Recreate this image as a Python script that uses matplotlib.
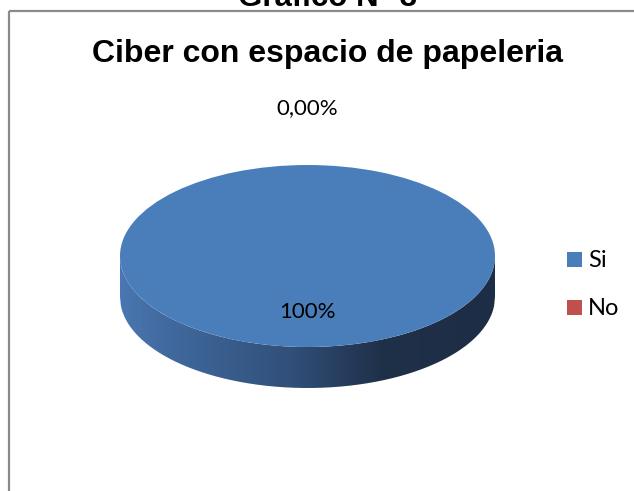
import numpy as np
import matplotlib
matplotlib.use("Agg")
import matplotlib.pyplot as plt
from matplotlib.patches import Rectangle, PathPatch
from matplotlib.path import Path
from matplotlib.colors import LinearSegmentedColormap

# --- data -------------------------------------------------------------
categories = ["Si", "No"]
values = [100, 0]
value_labels = ["100%", "0,00%"]
slice_colors = ["#4a7ebb", "#c0504d"]
chart_title = "Ciber con espacio de papeleria"
figure_caption = "Grafico N° 3"

# --- layout (pixels) ---------------------------------------------------
W, H = 634, 491
cx, cy = 307.5, 256.0      # centre of the top face
rx, ry = 187.5, 91.0       # semi-axes of the top face
depth = 41.0               # thickness of the disc
label_dist = [0.62, 1.62]  # radial distance of each value label

label_font = ["Lato", "DejaVu Sans"]
title_font = ["Liberation Sans", "DejaVu Sans"]

fig = plt.figure(figsize=(W / 100, H / 100), dpi=100)
fig.patch.set_facecolor("white")

# full-figure overlay in pixel coordinates
ax = fig.add_axes([0, 0, 1, 1])
ax.set_xlim(0, W)
ax.set_ylim(H, 0)
ax.axis("off")

# chart frame (continues past the right and bottom edges)
ax.add_patch(Rectangle((9, 11), W + 20, H + 20, fill=False,
                       edgecolor="#8a8a8a", linewidth=1.6, zorder=1))

ax.text(328, 5.5, figure_caption, ha="center", va="baseline",
        fontsize=22.5, fontweight="bold", family=title_font, color="black")
ax.text(327.5, 62, chart_title, ha="center", va="baseline",
        fontsize=23, fontweight="bold", family=title_font, color="black")

# pie axes: unit circle stretched onto the ellipse, with room below for the side
d = depth / ry
pax = fig.add_axes([(cx - rx) / W, (H - (cy + ry + depth)) / H,
                    2 * rx / W, (2 * ry + depth) / H])
wedges, _ = pax.pie(values, colors=slice_colors, startangle=90,
                    counterclock=False, radius=1,
                    wedgeprops=dict(linewidth=0))
for w in wedges:
    w.set_zorder(3)
pax.set_aspect("auto")
pax.set_xlim(-1, 1)
pax.set_ylim(-1 - d, 1)
pax.axis("off")

# side wall of the disc with a horizontal shading gradient
xs = np.linspace(-1, 1, 400)
lower = -np.sqrt(np.clip(1 - xs ** 2, 0, None))
verts = ([(-1, 0), (-1, -d)] + list(zip(xs, lower - d)) +
         [(1, -d), (1, 0)] + list(zip(xs[::-1], lower[::-1])))
side_path = Path(verts + [verts[0]])
side_patch = PathPatch(side_path, facecolor="none", edgecolor="none")
pax.add_patch(side_patch)

shade = LinearSegmentedColormap.from_list(
    "side", [(0.0, "#4a77b1"), (0.12, "#416a9f"), (0.45, "#31507a"),
             (0.7, "#1f3049"), (1.0, "#1d2d45")])
grad = np.linspace(0, 1, 512)[None, :]
img = pax.imshow(grad, cmap=shade, extent=[-1, 1, -1 - d, 0],
                 aspect="auto", interpolation="bilinear", zorder=2)
img.set_clip_path(side_patch)
pax.set_xlim(-1, 1)
pax.set_ylim(-1 - d, 1)

# value labels placed along each slice's mid angle
for w, txt, r in zip(wedges, value_labels, label_dist):
    mid = np.deg2rad((w.theta1 + w.theta2) / 2)
    pax.text(r * np.cos(mid), r * np.sin(mid), txt, ha="center",
             va="center", fontsize=16, family=label_font,
             color="black", zorder=5, clip_on=False)

# legend
for i, (name, col) in enumerate(zip(categories, slice_colors)):
    y0 = 252 + 48 * i
    ax.add_patch(Rectangle((567, y0), 15, 15, facecolor=col,
                           edgecolor="none", zorder=4))
    ax.text(588, y0 + 15, name, ha="left", va="baseline", fontsize=17,
            family=label_font, color="black")

fig.savefig("out.png", dpi=100, facecolor="white")
